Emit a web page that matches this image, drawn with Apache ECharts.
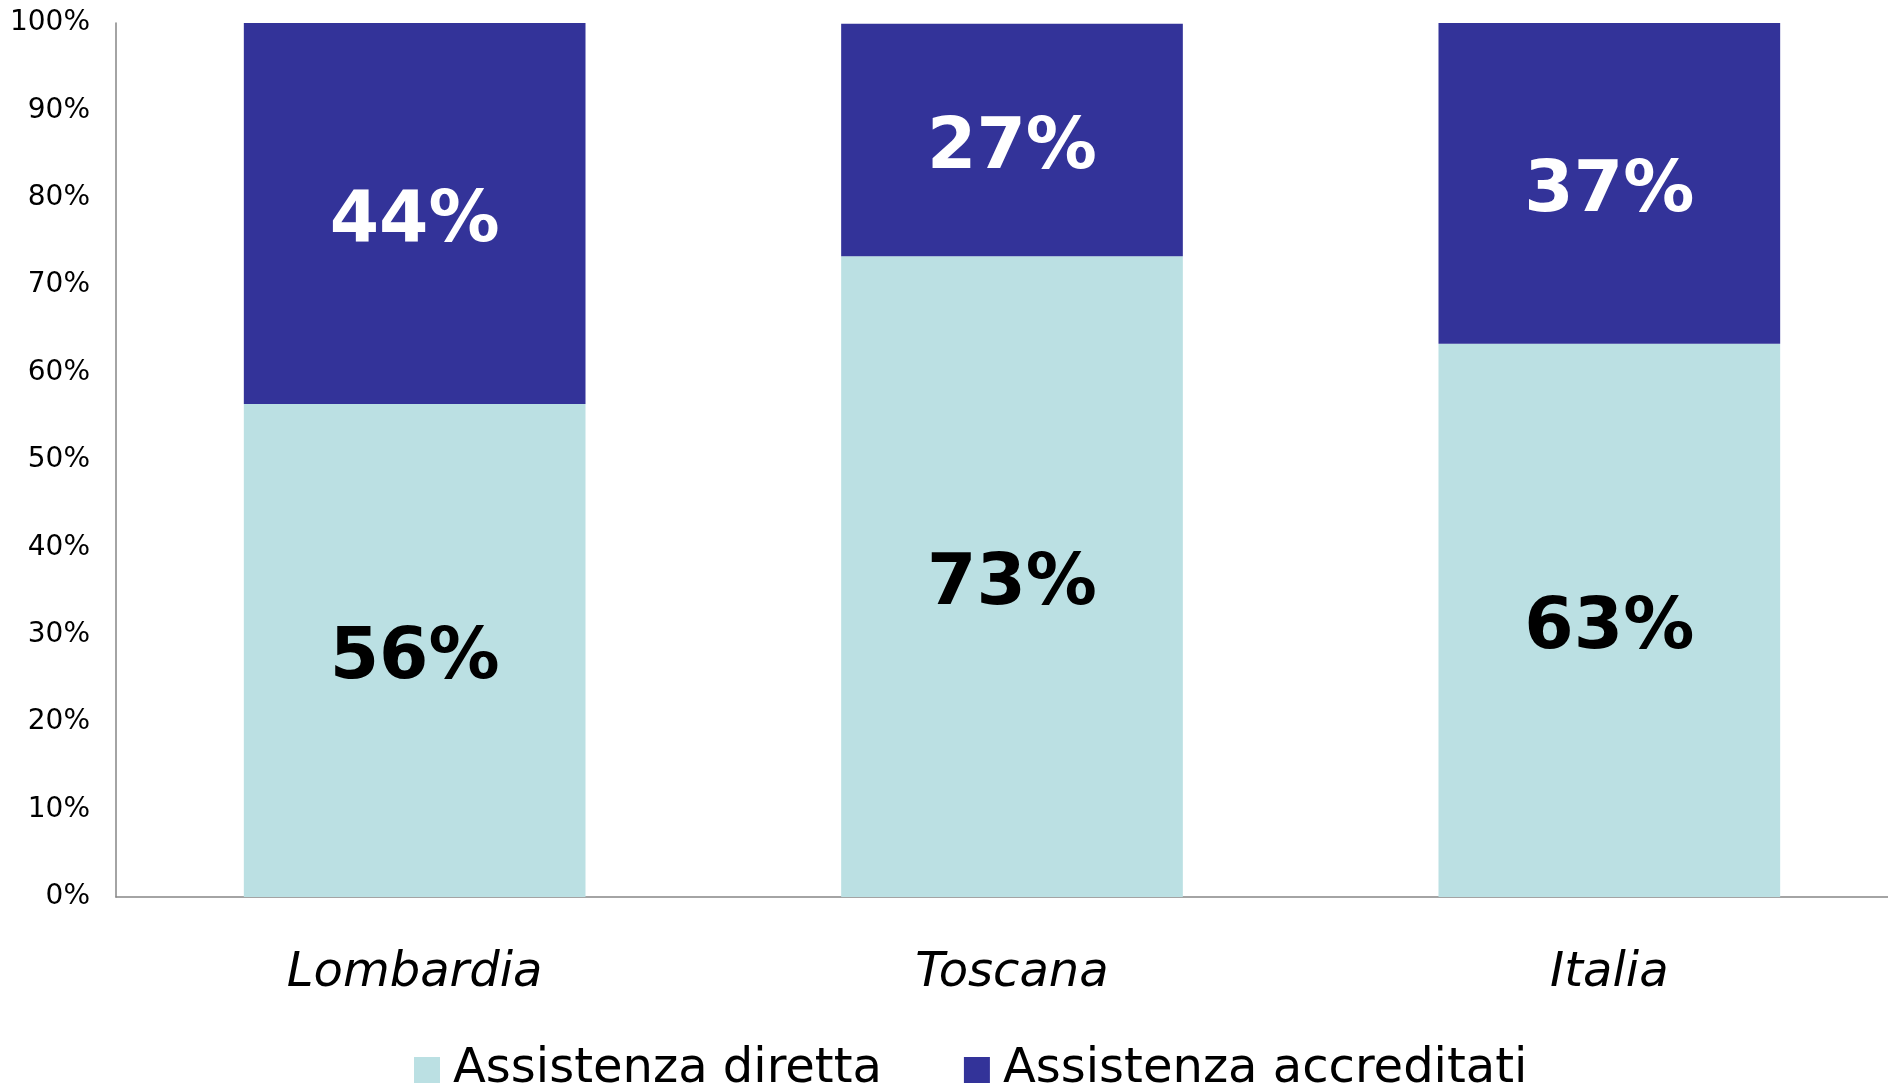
<!DOCTYPE html>
<html>
<head>
<meta charset="utf-8">
<script src="https://cdn.jsdelivr.net/npm/echarts@6/dist/echarts.min.js"></script>
<style>
  html, body { margin: 0; padding: 0; background: #fff; overflow: hidden; }
  #bar { width: 1910px; height: 1086px; }
</style>
</head>
<body>
<div id="bar"></div>
<script>
// dati
const categories = ['Lombardia', 'Toscana', 'Italia'];
const diretta = [56.4, 73.3, 63.3];
const accreditati = [43.6, 26.6, 36.7];
const yTicks = [0, 10, 20, 30, 40, 50, 60, 70, 80, 90, 100];

function chartAssistenza () {
  const myChart = echarts.init(document.getElementById('bar'));
  const font = '"DejaVu Sans", Verdana, sans-serif';
  const labelStyle = {
    show: true,
    position: 'inside',
    offset: [0, 9],
    fontSize: 71,
    fontWeight: 'bold',
    fontFamily: font,
    formatter: p => Math.round(p.value) + '%'
  };
  const option = {
    color: ['#BBE0E3', '#333399'],
    textStyle: { fontFamily: font },
    legend: {
      left: 409,
      bottom: -13,
      icon: 'rect',
      itemWidth: 26,
      itemHeight: 26,
      itemGap: 82,
      textStyle: { fontSize: 48, color: '#000', fontFamily: font, padding: [0, 0, 0, 8] },
      data: ['Assistenza diretta', 'Assistenza accreditati']
    },
    grid: {
      left: 116,
      top: 23,
      bottom: 189,
      width: 1792
    },
    xAxis: {
      type: 'category',
      data: categories,
      axisLine: { show: true, lineStyle: { color: '#868686', width: 1.5 } },
      axisTick: { show: false },
      axisLabel: {
        fontSize: 48,
        fontStyle: 'italic',
        color: '#000',
        margin: 53,
        fontFamily: font
      }
    },
    yAxis: {
      type: 'value',
      min: yTicks[0],
      max: yTicks[yTicks.length - 1],
      interval: 10,
      axisLine: { show: true, lineStyle: { color: '#868686', width: 1.5 } },
      axisTick: { show: false },
      splitLine: { show: false },
      axisLabel: {
        fontSize: 28,
        color: '#000',
        margin: 26,
        fontFamily: font,
        formatter: '{value}%'
      }
    },
    series: [
      {
        name: 'Assistenza diretta',
        type: 'bar',
        stack: 'tot',
        barWidth: '57.2%',
        data: diretta,
        label: Object.assign({}, labelStyle, { color: '#000' })
      },
      {
        name: 'Assistenza accreditati',
        type: 'bar',
        stack: 'tot',
        barWidth: '57.2%',
        data: accreditati,
        label: Object.assign({}, labelStyle, { color: '#fff' })
      }
    ]
  };
  myChart.setOption(option);
  window.addEventListener('resize', function () {
    myChart.resize();
  });
}
chartAssistenza();
</script>
</body>
</html>
